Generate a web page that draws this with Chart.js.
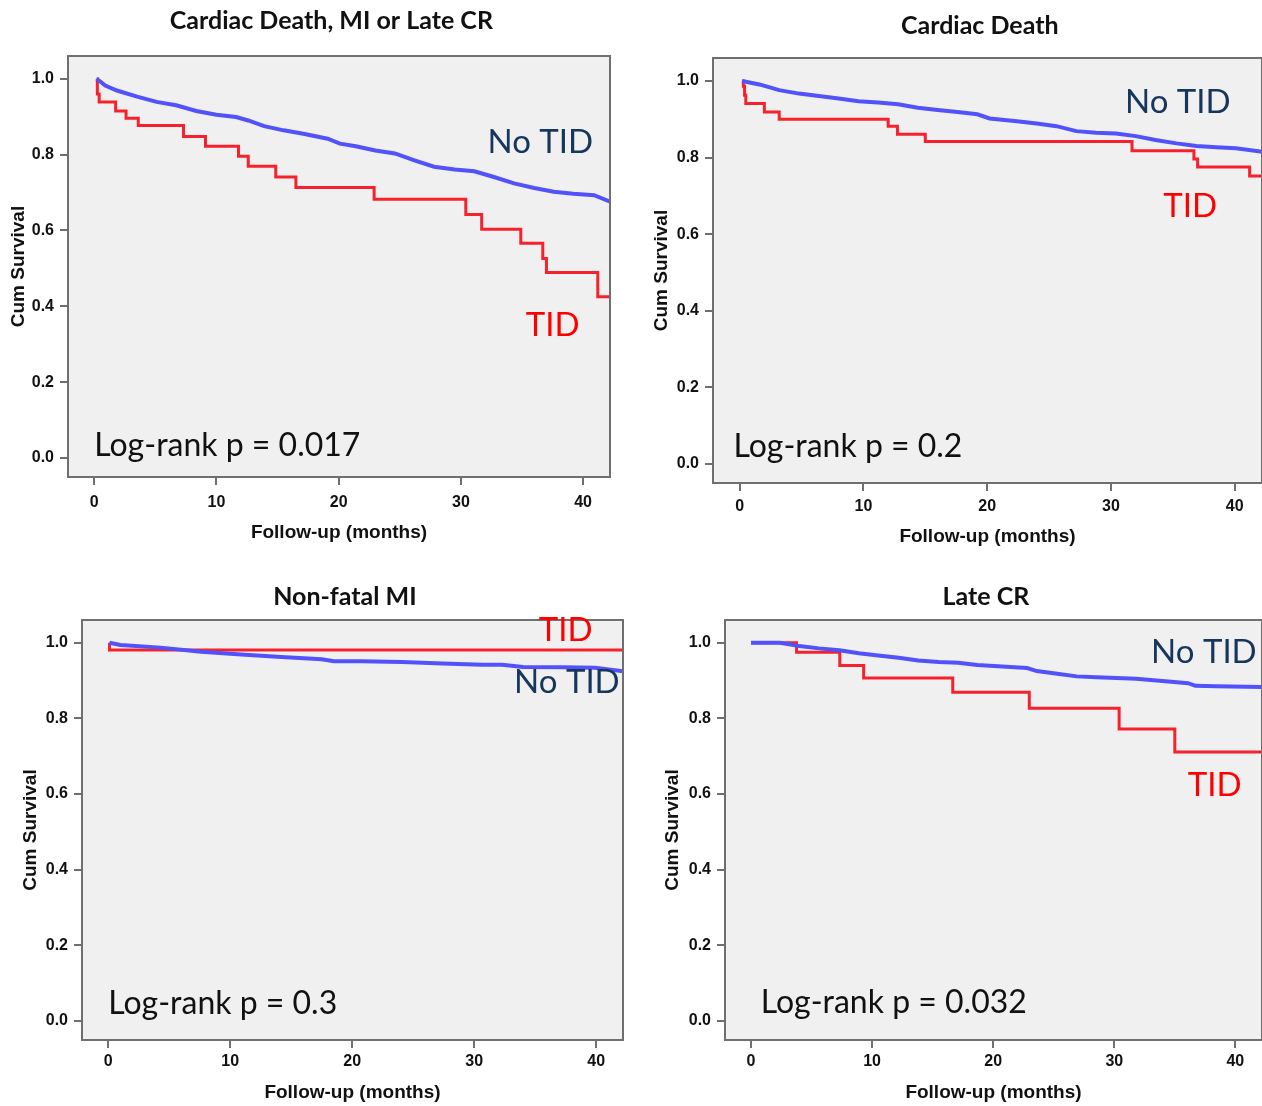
<!DOCTYPE html>
<html>
<head>
<meta charset="utf-8">
<title>TID survival curves</title>
<script src="https://cdn.jsdelivr.net/npm/chart.js@4.4.1/dist/chart.umd.min.js"></script>
<style>
  html, body { margin: 0; padding: 0; background: #fff; }
  body { width: 1262px; height: 1106px; overflow: hidden; position: relative; }
  canvas { position: absolute; }
</style>
</head>
<body>
<canvas id="p1"></canvas>
<canvas id="p2"></canvas>
<canvas id="p3"></canvas>
<canvas id="p4"></canvas>

<script>
// ---- data (months, cumulative survival) ----
var xTicks = [0, 10, 20, 30, 40];
var yTicks = [0.0, 0.2, 0.4, 0.6, 0.8, 1.0];

// Cardiac Death, MI or Late CR
var cdmiTidTime = [0.2, 0.25, 0.4, 1.75, 2.6, 3.6, 7.3, 9.1, 11.8, 12.6, 14.85, 16.5, 22.9, 30.4, 31.7, 34.9, 36.7, 37.0, 41.2, 42.3];
var cdmiTidSurv = [1.0, 0.96, 0.939, 0.915, 0.896, 0.877, 0.848, 0.822, 0.796, 0.769, 0.741, 0.713, 0.682, 0.642, 0.603, 0.566, 0.526, 0.489, 0.425, 0.425];
var cdmiNoTime = [0.2, 0.9, 1.85, 3.5, 5.1, 6.7, 8.35, 10.0, 11.6, 12.6, 13.9, 15.5, 17.1, 19.1, 20.1, 21.4, 23.0, 24.6, 26.2, 27.8, 29.5, 31.1, 32.7, 34.35, 36.0, 37.6, 39.2, 40.9, 42.3];
var cdmiNoSurv = [1.0, 0.982, 0.969, 0.953, 0.939, 0.930, 0.915, 0.905, 0.899, 0.890, 0.875, 0.864, 0.855, 0.842, 0.829, 0.822, 0.811, 0.803, 0.785, 0.768, 0.761, 0.756, 0.741, 0.724, 0.712, 0.702, 0.697, 0.693, 0.675];

// Cardiac Death
var cdTidTime = [0.2, 0.3, 0.4, 0.5, 2.0, 3.2, 12.0, 12.75, 15.0, 31.7, 36.7, 37.0, 41.2, 42.3];
var cdTidSurv = [1.0, 0.986, 0.963, 0.941, 0.919, 0.900, 0.882, 0.861, 0.842, 0.818, 0.796, 0.775, 0.752, 0.752];
var cdNoTime = [0.2, 1.6, 3.2, 4.8, 6.4, 8.0, 9.6, 11.2, 12.8, 14.4, 16.0, 17.6, 19.2, 20.2, 22.4, 24.0, 25.6, 27.2, 28.8, 30.4, 32.0, 33.6, 35.3, 36.9, 38.5, 40.1, 42.3];
var cdNoSurv = [1.0, 0.991, 0.976, 0.967, 0.961, 0.954, 0.947, 0.944, 0.939, 0.930, 0.924, 0.919, 0.913, 0.902, 0.895, 0.889, 0.882, 0.869, 0.865, 0.863, 0.856, 0.846, 0.837, 0.830, 0.827, 0.824, 0.815];

// Non-fatal MI
var miTidTime = [0.1, 0.1, 42.3];
var miTidSurv = [1.0, 0.981, 0.981];
var miNoTime = [0.1, 1.0, 4.3, 7.6, 10.9, 14.2, 17.5, 18.5, 20.8, 24.1, 27.4, 30.7, 32.3, 34.0, 37.3, 39.9, 42.3];
var miNoSurv = [1.0, 0.994, 0.987, 0.976, 0.969, 0.962, 0.956, 0.951, 0.951, 0.949, 0.945, 0.942, 0.942, 0.936, 0.935, 0.934, 0.924];

// Late CR
var crTidTime = [0.0, 3.76, 7.33, 9.3, 16.66, 22.98, 30.4, 35.0, 42.3];
var crTidSurv = [1.0, 0.975, 0.94, 0.907, 0.869, 0.827, 0.772, 0.711, 0.711];
var crNoTime = [0.0, 2.4, 4.0, 5.6, 7.3, 8.9, 10.5, 12.2, 13.8, 15.5, 17.1, 18.7, 20.4, 22.8, 23.6, 25.3, 26.9, 28.5, 30.2, 31.8, 33.5, 36.1, 36.7, 38.4, 42.3];
var crNoSurv = [1.0, 1.0, 0.991, 0.985, 0.980, 0.972, 0.966, 0.960, 0.953, 0.949, 0.947, 0.941, 0.938, 0.933, 0.925, 0.918, 0.911, 0.909, 0.907, 0.905, 0.900, 0.893, 0.886, 0.885, 0.883];

// Colors
var tidRed = '#f5222d';
var noTidBlue = '#5252fa';
var navy = '#17365d';
var boxGrey = '#6f6f6f';
var plotBg = '#f0f0f0';

var tickFont = { family: "'Liberation Sans', Arial, sans-serif", size: 16, weight: 'bold' };
var titleFont = { family: "'Liberation Sans', Arial, sans-serif", size: 19, weight: 'bold' };
var calibriLike = "Lato, 'Open Sans', sans-serif";

function pts(xs, ys) {
    return xs.map(function (x, i) { return { x: x, y: ys[i] }; });
}

// Plot background, frame, heading and in-plot labels
var panelDecor = {
    id: 'panelDecor',
    beforeDatasetsDraw: function (chart) {
        var a = chart.chartArea, ctx = chart.ctx;
        ctx.save();
        ctx.fillStyle = plotBg;
        ctx.fillRect(a.left, a.top, a.right - a.left, a.bottom - a.top);
        ctx.restore();
    },
    afterDatasetsDraw: function (chart, args, opts) {
        var a = chart.chartArea, ctx = chart.ctx;
        var xs = chart.scales.x, ys = chart.scales.y;
        ctx.save();
        ctx.strokeStyle = boxGrey;
        ctx.lineWidth = 2;
        ctx.strokeRect(a.left, a.top, a.right - a.left, a.bottom - a.top);

        // heading above the frame
        ctx.fillStyle = '#111';
        ctx.font = 'bold 25px ' + calibriLike;
        ctx.textAlign = 'center';
        ctx.textBaseline = 'middle';
        ctx.fillText(opts.heading, xs.getPixelForValue(opts.headingX), a.top - opts.headingGap);

        // labels inside the plot
        opts.labels.forEach(function (l) {
            ctx.fillStyle = l.color;
            ctx.font = l.size + 'px ' + calibriLike;
            ctx.textAlign = l.align || 'center';
            ctx.textBaseline = 'middle';
            ctx.fillText(l.text, xs.getPixelForValue(l.x), ys.getPixelForValue(l.y));
        });
        ctx.restore();
    }
};

function makePanel(id, p) {
    var cv = document.getElementById(id);
    cv.style.left = p.box[0] + 'px';
    cv.style.top = p.box[1] + 'px';
    cv.width = p.box[2];
    cv.height = p.box[3];

    new Chart(cv.getContext('2d'), {
        type: 'line',
        data: {
            datasets: [{
                label: 'No TID',
                data: pts(p.noTime, p.noSurv),
                borderColor: noTidBlue,
                borderWidth: 4,
                pointRadius: 0,
                tension: 0
            }, {
                label: 'TID',
                data: pts(p.tidTime, p.tidSurv),
                borderColor: tidRed,
                borderWidth: 3,
                pointRadius: 0,
                stepped: 'before'
            }]
        },
        options: {
            responsive: false,
            animation: false,
            layout: { padding: { top: p.padTop, right: p.padRight, left: 0, bottom: 0 } },
            plugins: {
                legend: { display: false },
                tooltip: { enabled: false },
                panelDecor: { heading: p.heading, headingX: 19.4, headingGap: p.headingGap, labels: p.labels }
            },
            scales: {
                x: {
                    type: 'linear',
                    min: -2.15,
                    max: 42.2,
                    afterFit: function (s) { s.height = p.xAxisH; },
                    afterBuildTicks: function (s) { s.ticks = xTicks.map(function (v) { return { value: v }; }); },
                    ticks: { font: tickFont, color: '#111', padding: p.xTickPad, maxRotation: 0,
                             callback: function (v) { return String(v); } },
                    grid: { drawOnChartArea: false, drawTicks: true, tickLength: 8, color: boxGrey, lineWidth: 2 },
                    border: { display: false },
                    title: { display: true, text: 'Follow-up (months)', font: titleFont, color: '#111',
                             padding: { top: 0, bottom: p.xTitlePad } }
                },
                y: {
                    min: -0.05,
                    max: 1.06,
                    afterFit: function (s) { s.width = p.yAxisW; },
                    afterBuildTicks: function (s) { s.ticks = yTicks.map(function (v) { return { value: v }; }); },
                    ticks: { font: tickFont, color: '#111', padding: 6,
                             callback: function (v) { return v.toFixed(1); } },
                    grid: { drawOnChartArea: false, drawTicks: true, tickLength: 8, color: boxGrey, lineWidth: 2 },
                    border: { display: false },
                    title: { display: true, text: 'Cum Survival', font: titleFont, color: '#111',
                             padding: { top: p.yTitlePad, bottom: 0 } }
                }
            }
        },
        plugins: [panelDecor]
    });
}

makePanel('p1', {
    box: [0, 0, 625, 560], padTop: 56, padRight: 15, yAxisW: 68, xAxisH: 83,
    xTickPad: 8, xTitlePad: 16, yTitlePad: 7,
    heading: 'Cardiac Death, MI or Late CR', headingGap: 35,
    tidTime: cdmiTidTime, tidSurv: cdmiTidSurv, noTime: cdmiNoTime, noSurv: cdmiNoSurv,
    labels: [
        { text: 'No TID', x: 36.5, y: 0.832, color: navy, size: 33 },
        { text: 'TID', x: 37.5, y: 0.35, color: '#ff0000', size: 33 },
        { text: 'Log-rank p = 0.017', x: 0.0, y: 0.032, color: '#111', size: 32, align: 'left' }
    ]
});

makePanel('p2', {
    box: [640, 0, 632, 560], padTop: 58, padRight: 10, yAxisW: 73, xAxisH: 77,
    xTickPad: 6, xTitlePad: 12, yTitlePad: 10,
    heading: 'Cardiac Death', headingGap: 32,
    tidTime: cdTidTime, tidSurv: cdTidSurv, noTime: cdNoTime, noSurv: cdNoSurv,
    labels: [
        { text: 'No TID', x: 35.4, y: 0.945, color: navy, size: 33 },
        { text: 'TID', x: 36.4, y: 0.672, color: '#ff0000', size: 33 },
        { text: 'Log-rank p = 0.2', x: -0.5, y: 0.044, color: '#111', size: 32, align: 'left' }
    ]
});

makePanel('p3', {
    box: [0, 570, 640, 536], padTop: 50, padRight: 17, yAxisW: 82, xAxisH: 66,
    xTickPad: 4, xTitlePad: 2, yTitlePad: 19,
    heading: 'Non-fatal MI', headingGap: 23,
    tidTime: miTidTime, tidSurv: miTidSurv, noTime: miNoTime, noSurv: miNoSurv,
    labels: [
        { text: 'TID', x: 37.5, y: 1.032, color: '#ff0000', size: 33 },
        { text: 'No TID', x: 37.6, y: 0.894, color: navy, size: 33 },
        { text: 'Log-rank p = 0.3', x: 0.0, y: 0.045, color: '#111', size: 32, align: 'left' }
    ]
});

makePanel('p4', {
    box: [640, 570, 632, 536], padTop: 50, padRight: 10, yAxisW: 85, xAxisH: 66,
    xTickPad: 4, xTitlePad: 2, yTitlePad: 21,
    heading: 'Late CR', headingGap: 23,
    tidTime: crTidTime, tidSurv: crTidSurv, noTime: crNoTime, noSurv: crNoSurv,
    labels: [
        { text: 'No TID', x: 37.4, y: 0.974, color: navy, size: 33 },
        { text: 'TID', x: 38.3, y: 0.624, color: '#ff0000', size: 33 },
        { text: 'Log-rank p = 0.032', x: 0.8, y: 0.048, color: '#111', size: 32, align: 'left' }
    ]
});
</script>
</body>
</html>
